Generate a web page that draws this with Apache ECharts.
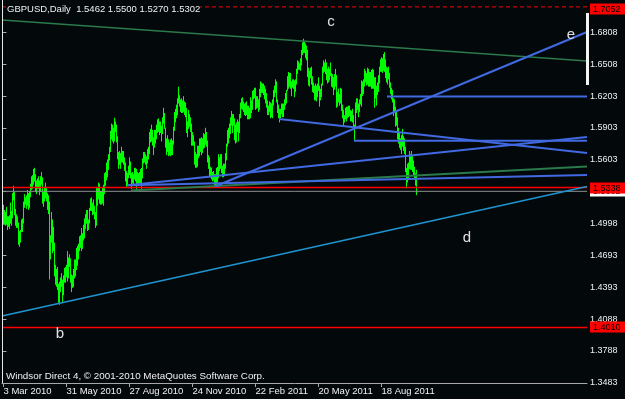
<!DOCTYPE html>
<html><head><meta charset="utf-8">
<script src="https://cdn.jsdelivr.net/npm/echarts@6/dist/echarts.min.js"></script>
<style>html,body{margin:0;padding:0;background:#03080b;}#c{width:625px;height:399px;}</style>
</head><body><div id="c"></div>
<script>
// ---- data (daily GBPUSD bars, 2 Mar 2010 .. 6 Oct 2011) ----
const highs = [
1.5060,1.5170,1.5120,1.5100,
1.5150,1.5060,1.5060,1.5070,1.5190,
1.5110,1.5280,1.5350,1.5290,1.5130,
1.5080,1.5060,1.5000,1.4920,1.4930,
1.5030,1.5040,1.5200,1.5270,1.5240,
1.5260,1.5310,1.5280,1.5300,1.5370,
1.5440,1.5450,1.5510,1.5520,1.5460,
1.5400,1.5420,1.5440,1.5400,1.5440,
1.5480,1.5430,1.5290,1.5340,1.5380,
1.5330,1.5280,1.5260,1.5200,1.4880,
1.5100,1.5030,1.4960,1.4810,1.4600,
1.4560,1.4580,1.4420,1.4440,1.4480,
1.4520,1.4460,1.4500,1.4570,1.4580,
1.4600,1.4730,1.4670,1.4700,1.4660,
1.4510,1.4500,1.4560,1.4650,1.4650,
1.4760,1.4780,1.4800,1.4870,1.4880,
1.4950,1.4900,1.4980,1.5040,1.5080,
1.5120,1.5120,1.5030,1.5140,1.5230,
1.5240,1.5190,1.5220,1.5160,
1.5100,1.5340,1.5330,1.5380,1.5370,
1.5300,1.5300,1.5330,1.5360,1.5470,
1.5480,1.5570,1.5600,1.5650,1.5720,
1.5870,1.5940,1.5930,1.5900,1.5995,
1.5960,1.5930,1.5820,1.5670,1.5680,
1.5660,1.5720,1.5680,1.5680,1.5620,
1.5570,1.5490,1.5470,1.5540,1.5620,
1.5580,1.5470,1.5480,1.5460,1.5520,
1.5520,1.5510,1.5480,1.5470,1.5480,
1.5510,1.5520,1.5610,1.5670,1.5670,
1.5650,1.5630,1.5700,1.5720,1.5860,
1.5890,1.5930,1.5880,1.5810,1.5880,
1.5880,1.5930,1.5980,1.5990,1.5960,
1.5960,1.5920,1.6000,1.6090,1.6040,
1.5900,1.5800,1.5830,1.5790,1.5760,
1.5790,1.5800,1.5780,1.5910,1.6050,
1.6080,1.6120,1.6180,1.6290,1.6210,
1.6170,1.6180,1.6160,1.6200,1.6150,
1.6140,1.6090,1.5960,1.6070,1.6030,
1.6000,1.5940,1.5860,1.5830,1.5770,
1.5670,1.5650,1.5730,1.5730,1.5800,
1.5800,1.5810,1.5800,1.5850,1.5840,
1.5900,1.5860,1.5780,1.5640,1.5620,
1.5530,1.5520,1.5480,1.5490,
1.5460,1.5460,1.5520,1.5530,1.5650,
1.5620,1.5650,1.5650,1.5540,1.5560,
1.5560,1.5660,1.5750,1.5880,1.5900,
1.5940,1.6000,1.6060,1.6030,1.6030,
1.5990,1.5930,1.5950,1.5980,1.5960,
1.6030,1.6140,1.6180,1.6190,1.6150,
1.6130,1.6140,1.6150,1.6110,1.6110,
1.6090,1.6190,1.6160,1.6250,1.6260,
1.6280,1.6280,1.6200,1.6200,1.6170,
1.6270,1.6340,1.6330,1.6320,1.6320,
1.6300,1.6270,1.6230,1.6160,1.6110,
1.6150,1.6140,1.6130,1.6170,1.6260,
1.6300,1.6360,1.6340,1.6170,1.6120,
1.6080,1.6080,1.6130,1.6130,1.6130,
1.6170,1.6230,1.6260,1.6390,1.6430,
1.6420,1.6420,1.6340,1.6360,1.6360,
1.6350,1.6360,1.6460,1.6540,1.6530,
1.6510,1.6560,1.6640,1.6710,1.6745,
1.6720,1.6700,1.6680,1.6640,1.6470,
1.6440,1.6470,1.6480,1.6390,1.6330,
1.6300,1.6320,1.6300,1.6320,1.6380,
1.6300,1.6270,1.6320,1.6480,1.6540,
1.6520,1.6550,1.6520,1.6460,1.6480,
1.6460,1.6520,1.6420,1.6410,1.6380,
1.6410,1.6460,1.6400,1.6240,1.6270,
1.6220,1.6280,1.6270,1.6120,1.6070,
1.6020,1.6090,1.6100,1.6100,1.6110,
1.6110,1.6070,1.6060,1.6080,
1.6020,1.5930,1.6140,1.6180,1.6180,
1.6130,1.6170,1.6220,1.6350,1.6340,
1.6360,1.6460,1.6440,1.6420,1.6470,
1.6460,1.6430,1.6430,1.6450,1.6460,
1.6450,1.6380,1.6380,1.6300,1.6330,
1.6400,1.6480,1.6550,1.6570,1.6560,
1.6600,1.6618,1.6550,1.6480,1.6470,
1.6480,1.6420,1.6330,1.6280,1.6260,
1.6180,1.6170,1.6100,1.6060,1.6000,
1.5900,1.5850,1.5800,1.5830,1.5890,
1.5820,1.5800,1.5720,1.5520,1.5560,
1.5570,1.5680,1.5650,1.5680,1.5630,
1.5590,1.5530,1.5470,1.5500
];
const lows = [
1.4890,1.4990,1.4990,1.4980,
1.4990,1.4940,1.4970,1.4950,1.5000,
1.4980,1.5050,1.5220,1.5080,1.4980,
1.4960,1.4960,1.4800,1.4780,1.4820,
1.4920,1.4920,1.5000,1.5150,1.5180,
1.5140,1.5170,1.5130,1.5150,1.5250,
1.5320,1.5330,1.5370,1.5400,1.5300,
1.5280,1.5330,1.5330,1.5270,1.5300,
1.5370,1.5190,1.5160,1.5210,1.5240,
1.5210,1.5130,1.5090,1.4470,1.4660,
1.4820,1.4720,1.4740,1.4500,1.4420,
1.4400,1.4370,1.4250,1.4230,1.4350,
1.4400,1.4250,1.4320,1.4440,1.4440,
1.4490,1.4450,1.4480,1.4590,1.4440,
1.4350,1.4390,1.4400,1.4480,1.4500,
1.4560,1.4600,1.4660,1.4740,1.4770,
1.4740,1.4760,1.4840,1.4860,1.4950,
1.5000,1.4930,1.4940,1.5000,1.5120,
1.5120,1.5080,1.5090,1.5040,
1.4960,1.4980,1.5170,1.5230,1.5190,
1.5180,1.5180,1.5190,1.5170,1.5280,
1.5360,1.5410,1.5440,1.5510,1.5600,
1.5680,1.5800,1.5780,1.5760,1.5780,
1.5870,1.5770,1.5610,1.5520,1.5560,
1.5520,1.5580,1.5580,1.5560,1.5500,
1.5400,1.5350,1.5355,1.5430,1.5460,
1.5430,1.5330,1.5380,1.5370,1.5420,
1.5400,1.5310,1.5360,1.5380,1.5370,
1.5370,1.5330,1.5430,1.5570,1.5580,
1.5560,1.5520,1.5570,1.5610,1.5660,
1.5770,1.5780,1.5740,1.5650,1.5720,
1.5760,1.5800,1.5860,1.5870,1.5840,
1.5860,1.5780,1.5850,1.5950,1.5900,
1.5720,1.5650,1.5680,1.5640,1.5650,
1.5640,1.5650,1.5650,1.5750,1.5880,
1.5960,1.6000,1.6030,1.6140,1.6110,
1.6060,1.6050,1.6050,1.6060,1.6030,
1.6010,1.5860,1.5820,1.5900,1.5920,
1.5870,1.5740,1.5740,1.5740,1.5560,
1.5530,1.5530,1.5540,1.5620,1.5640,
1.5680,1.5650,1.5670,1.5710,1.5720,
1.5750,1.5730,1.5580,1.5520,1.5440,
1.5440,1.5420,1.5400,1.5410,
1.5360,1.5350,1.5350,1.5390,1.5430,
1.5500,1.5520,1.5480,1.5440,1.5440,
1.5450,1.5520,1.5600,1.5730,1.5760,
1.5810,1.5850,1.5930,1.5860,1.5930,
1.5790,1.5760,1.5770,1.5870,1.5780,
1.5860,1.6000,1.6090,1.6080,1.6060,
1.6030,1.6020,1.6030,1.5990,1.5990,
1.5990,1.6000,1.6050,1.6080,1.6180,
1.6190,1.6080,1.6090,1.6100,1.6060,
1.6080,1.6200,1.6240,1.6240,1.6220,
1.6180,1.6140,1.6100,1.6030,1.6030,
1.6060,1.6000,1.6010,1.6000,1.6120,
1.6200,1.6240,1.6150,1.6050,1.6000,
1.5960,1.6000,1.6040,1.6010,1.6010,
1.6080,1.6120,1.6140,1.6260,1.6280,
1.6300,1.6280,1.6210,1.6290,1.6280,
1.6200,1.6250,1.6320,1.6420,1.6460,
1.6460,1.6450,1.6500,1.6600,1.6620,
1.6620,1.6570,1.6550,1.6390,1.6310,
1.6300,1.6380,1.6320,1.6250,1.6240,
1.6170,1.6170,1.6160,1.6200,1.6260,
1.6110,1.6170,1.6200,1.6310,1.6430,
1.6440,1.6420,1.6360,1.6330,1.6340,
1.6360,1.6400,1.6300,1.6290,1.6220,
1.6270,1.6300,1.6100,1.6110,1.6150,
1.6120,1.6140,1.6070,1.6000,1.5930,
1.5960,1.5990,1.5970,1.6000,1.6010,
1.6020,1.5970,1.5970,1.5960,
1.5900,1.5780,1.5900,1.6050,1.6080,
1.6010,1.6060,1.6130,1.6110,1.6210,
1.6230,1.6300,1.6340,1.6310,1.6320,
1.6300,1.6300,1.6300,1.6280,1.6280,
1.6280,1.6100,1.6190,1.6120,1.6220,
1.6250,1.6330,1.6440,1.6440,1.6430,
1.6450,1.6440,1.6380,1.6340,1.6320,
1.6370,1.6290,1.6230,1.6180,1.6150,
1.6020,1.6050,1.5920,1.5930,1.5800,
1.5760,1.5720,1.5700,1.5660,1.5730,
1.5690,1.5660,1.5490,1.5335,1.5390,
1.5420,1.5520,1.5510,1.5510,1.5490,
1.5450,1.5420,1.5360,1.5270
];
const lastOHLC = [1.5462, 1.5500, 1.5270, 1.5302];
const symbolName = 'GBPUSD,Daily';
const footerText = 'Windsor Direct 4, \u00a9 2001-2010 MetaQuotes Software Corp.';

const xLabelBars = [1, 64, 127, 190, 253, 316, 379];
const xLabelTexts = ['3 Mar 2010','31 May 2010','27 Aug 2010','24 Nov 2010','22 Feb 2011','20 May 2011','18 Aug 2011'];
const yTickValues = [1.3483,1.3788,1.4088,1.4393,1.4693,1.4998,1.5302,1.5603,1.5903,1.6203,1.6508,1.6808];
const priceMin = 1.3483, priceMax = 1.7089;
const barSlots = 585;

// trend line end points [bar index, price]
const lineGreenTop   = [[-0.5, 1.6928], [584.5, 1.6539]];
const lineGreenLow   = [[128.5, 1.5310], [584.5, 1.5538]];
const lineSkyBase    = [[-0.5, 1.4119], [584.5, 1.5348]];
const lineE          = [[213, 1.5350], [584.5, 1.6814]];
const lineB1         = [[125, 1.5360], [584.5, 1.5818]];
const lineB2         = [[125, 1.5360], [584.5, 1.5457]];
const lineD          = [[276.5, 1.5988], [584.5, 1.5666]];
const lineH1         = [[351.5, 1.5782], [584.5, 1.5782]];
const lineH2         = [[384.5, 1.6202], [584.5, 1.6202]];

// horizontal price levels: ask (dashed), bid, resistance, support
const levelNames  = ['ask', 'bid', 'res', 'sup'];
const levelValues = [1.7052, 1.5302, 1.5338, 1.4010];

const waveLetters = ['c', 'e', 'd', 'b'];
const waveLetterPos = [[328.5, 1.6909], [568.5, 1.6786], [464.5, 1.4859], [57.5, 1.3948]];

// ---- styles ----
const FONT = '"Liberation Sans", Arial, sans-serif';
const BG = '#03080b';
const lineStyles = {
  greenTop: {color:'#2b7a4b', width:1.5},
  greenLow: {color:'#2b7a4b', width:2},
  sky: {color:'#1f95d0', width:1.6},
  blue: {color:'#4169e1', width:2}
};
const levelStyles = {
  ask: {line:'#ff0000', width:1, dash:[4,3], tagBg:'#ff0000'},
  bid: {line:'#909090', width:1, dash:null, tagBg:'#ffffff'},
  res: {line:'#ff0000', width:1.3, dash:null, tagBg:'#ff0000'},
  sup: {line:'#ff0000', width:1.4, dash:null, tagBg:'#ff0000'}
};

function seg(pts, st, dash) {
  return {type:'line', data: pts, symbol:'none', silent:true, animation:false, clip:true,
    lineStyle:{color: st.color, width: st.width, type: dash || 'solid', opacity:1}, z:3};
}

const levelSeries = levelNames.map((n, k) => seg(
  [[-0.5, levelValues[k]], [barSlots - 0.5, levelValues[k]]],
  {color: levelStyles[n].line, width: levelStyles[n].width}, levelStyles[n].dash));

const chart = echarts.init(document.getElementById('c'), null, {renderer:'canvas'});
const option = {
  backgroundColor: BG,
  animation: false,
  title: [
    {text: symbolName + '  ' + lastOHLC.map(v=>v.toFixed(4)).join(' '), left: 7, top: 4,
     padding: 0, backgroundColor: BG,
     textStyle:{color:'#f0f0f0', fontSize:9.5, fontWeight:'normal', fontFamily: FONT}},
    {text: footerText, left: 6, top: 371, padding: 0,
     textStyle:{color:'#f0f0f0', fontSize:9.8, fontWeight:'normal', fontFamily: FONT}}
  ],
  grid: {left: 2, right: 38, top: 3, bottom: 16, containLabel: false, outerBoundsMode: 'none'},
  xAxis: {
    type:'value', min: -0.5, max: barSlots - 0.5,
    splitLine:{show:false},
    axisLine:{show:true, lineStyle:{color:'#a8a8a8', width:1}},
    axisTick:{show:true, customValues: xLabelBars, length:4, lineStyle:{color:'#a8a8a8'}},
    axisLabel:{show:true, customValues: xLabelBars, margin:3, align:'left',
      color:'#f0f0f0', fontSize:9.5, fontFamily: FONT,
      formatter: v => { const k = xLabelBars.indexOf(Math.round(v)); return k >= 0 ? xLabelTexts[k] : ''; }}
  },
  yAxis: {
    type:'value', position:'right', min: priceMin, max: priceMax, scale:true,
    splitLine:{show:false},
    axisLine:{show:true, lineStyle:{color:'#a8a8a8', width:1}},
    axisTick:{show:true, customValues: yTickValues, length:4, lineStyle:{color:'#a8a8a8'}},
    axisLabel:{show:true, customValues: yTickValues, margin:3, color:'#f0f0f0',
      fontSize:9, fontFamily: FONT, formatter: v => v.toFixed(4)}
  },
  graphic: [
    {type:'line', shape:{x1:2.5, y1:0, x2:2.5, y2:383}, style:{stroke:'#e8e8e8', lineWidth:1}, z:10},
    {type:'rect', shape:{x:586, y:13, width:3, height:72}, style:{fill:'#f4f4f4'}, z:10}
  ],
  series: [
    {
      type:'custom', animation:false, clip:true, z:2,
      data: highs.map((h, i) => [i, lows[i], h]),
      encode:{x:0, y:[1,2]},
      renderItem: (params, api) => {
        const p1 = api.coord([api.value(0), api.value(1)]);
        const p2 = api.coord([api.value(0), api.value(2)]);
        return {type:'line', shape:{x1:p1[0], y1:p1[1] + 0.5, x2:p2[0], y2:p2[1] - 0.5},
          style:{stroke:'#00ff00', lineWidth:1}};
      }
    },
    ...levelSeries,
    seg(lineGreenTop, lineStyles.greenTop),
    seg(lineGreenLow, lineStyles.greenLow),
    seg(lineSkyBase, lineStyles.sky),
    seg(lineE, lineStyles.blue),
    seg(lineB1, lineStyles.blue),
    seg(lineB2, lineStyles.blue),
    seg(lineD, lineStyles.blue),
    seg(lineH1, lineStyles.blue),
    seg(lineH2, lineStyles.blue),
    {
      // price tags on the right scale
      type:'custom', animation:false, silent:true, clip:false, z:8,
      data: levelValues.map((v, k) => [barSlots - 0.5, v, k]),
      encode:{x:0, y:1},
      renderItem: (params, api) => {
        const p = api.coord([api.value(0), api.value(1)]);
        const k = api.value(2);
        const st = levelStyles[levelNames[k]];
        const cy = Math.max(Math.round(p[1]), 9);
        return {type:'group', children:[
          {type:'rect', shape:{x:p[0] + 3, y:cy - 5.5, width:35, height:11},
           style:{fill: st.tagBg}},
          {type:'text', x:p[0] + 6, y:cy + 0.5,
           style:{text: levelValues[k].toFixed(4), fill:'#000', font:'9px ' + FONT,
             align:'left', verticalAlign:'middle'}}
        ]};
      }
    },
    {
      type:'custom', animation:false, silent:true, z:6,
      data: waveLetterPos.map((p, k) => [p[0], p[1], k]),
      encode:{x:0, y:1},
      renderItem: (params, api) => {
        const p = api.coord([api.value(0), api.value(1)]);
        return {type:'text', x:p[0], y:p[1],
          style:{text: waveLetters[api.value(2)], fill:'#e0e0e0', font: '15px ' + FONT,
            align:'center', verticalAlign:'middle'}};
      }
    }
  ]
};
chart.setOption(option);
</script>
</body></html>
